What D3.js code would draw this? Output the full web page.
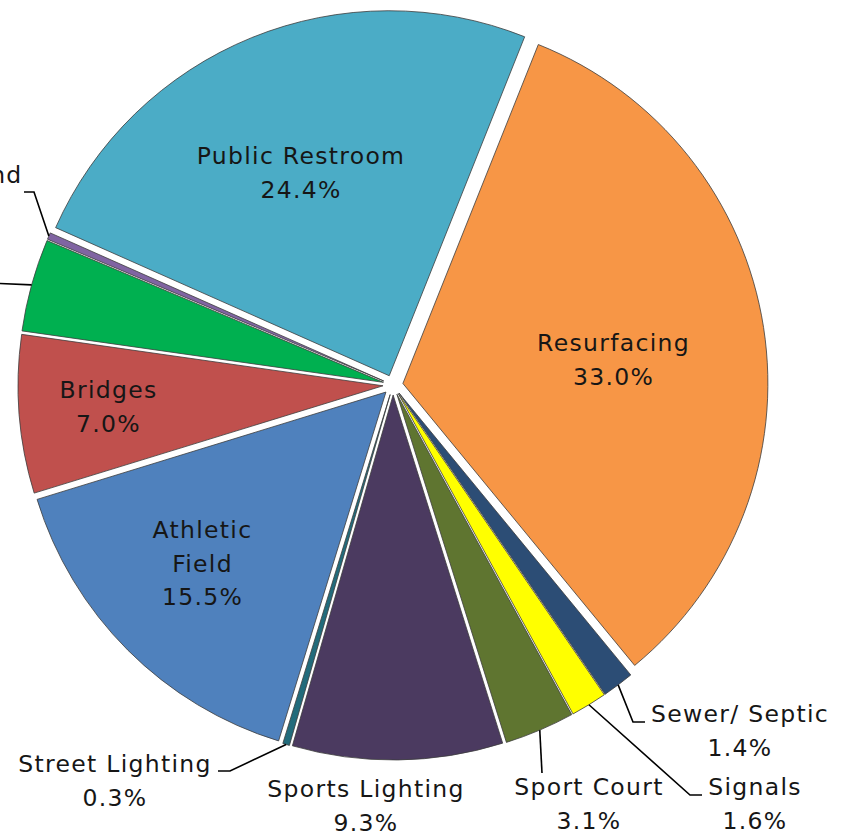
<!DOCTYPE html>
<html>
<head>
<meta charset="utf-8">
<script src="https://cdn.jsdelivr.net/npm/d3@7/dist/d3.min.js"></script>
<style>
  html, body { margin: 0; padding: 0; background: #ffffff; overflow: hidden; }
  svg { display: block; }
  text { font-family: "DejaVu Sans", Verdana, sans-serif; font-size: 23.5px; letter-spacing: 1.3px; fill: #161616; }
</style>
</head>
<body>
<svg id="chart" width="845" height="835"></svg>
<script>
// ---- data (clockwise order, as in the picture) ----
const categories = ["Athletic Field", "Bridges", "Irrigation", "Playground", "Public Restroom",
                    "Resurfacing", "Sewer/ Septic", "Signals", "Sport Court", "Sports Lighting", "Street Lighting"];
const values = [15.5, 7.0, 4.1, 0.3, 24.4, 33.0, 1.4, 1.6, 3.1, 9.3, 0.3];
const colors = ["#4F81BD", "#C0504D", "#00B050", "#8064A2", "#4BACC6",
                "#F79646", "#2C4D75", "#FFFF00", "#5F7530", "#4B3A60", "#226B7B"];

// ---- layout ----
const W = 845, H = 835;
const cx = 393, cy = 385, R = 365, explode = 10;
const startDeg = 197.1;
const lineGap = 33.5;

// label anchor: center x, first baseline y; lines override; leader elbows
const labelLayout = {
  "Athletic Field":  { x: 202.5, y: 538, lines: ["Athletic", "Field"] },
  "Bridges":         { x: 108.5, y: 398 },
  "Irrigation":      { x: -75,   y: 290, leader: [[-10, 283]] },
  "Playground":      { x: -50,   y: 183, leader: [[34, 192], [24, 192]] },
  "Public Restroom": { x: 301,   y: 164 },
  "Resurfacing":     { x: 613.5, y: 351 },
  "Sewer/ Septic":   { x: 740,   y: 722, leader: [[633, 722], [645, 722]] },
  "Signals":         { x: 755,   y: 795, leader: [[690, 795], [702, 795]] },
  "Sport Court":     { x: 589,   y: 795, leader: [[542, 773]] },
  "Sports Lighting": { x: 366,   y: 797 },
  "Street Lighting": { x: 115,   y: 772, leader: [[230, 771], [218, 771]] }
};

const rows = categories.map((c, i) => ({ name: c, value: values[i], color: colors[i] }));

const svg = d3.select("#chart");
const g = svg.append("g").attr("transform", `translate(${cx},${cy})`);

const pie = d3.pie()
  .sort(null)
  .value(d => d.value)
  .startAngle(startDeg * Math.PI / 180)
  .endAngle((startDeg + 360) * Math.PI / 180);

const arc = d3.arc().innerRadius(0).outerRadius(R);
const arcs = pie(rows);

const mid = a => (a.startAngle + a.endAngle) / 2;
const off = a => [explode * Math.sin(mid(a)), -explode * Math.cos(mid(a))];

g.selectAll("path.slice")
  .data(arcs)
  .join("path")
  .attr("class", "slice")
  .attr("transform", a => { const o = off(a); return `translate(${o[0]},${o[1]})`; })
  .attr("d", arc)
  .attr("fill", a => a.data.color)
  .attr("stroke", "#3c3c3c")
  .attr("stroke-width", 0.8)
  .attr("stroke-linejoin", "round");

// leader lines: from the arc at mid-angle to the label elbows
const fmt = v => d3.format(".1f")(v) + "%";
const leaderData = arcs.filter(a => labelLayout[a.data.name].leader);
svg.selectAll("path.leader")
  .data(leaderData)
  .join("path")
  .attr("class", "leader")
  .attr("fill", "none")
  .attr("stroke", "#000")
  .attr("stroke-width", 1.6)
  .attr("d", a => {
    const o = off(a), m = mid(a);
    const p0 = [cx + o[0] + R * Math.sin(m), cy + o[1] - R * Math.cos(m)];
    return d3.line()([p0, ...labelLayout[a.data.name].leader]);
  });

// labels
const labels = svg.selectAll("text.lbl")
  .data(arcs)
  .join("text")
  .attr("class", "lbl")
  .attr("text-anchor", "middle");

labels.each(function(a) {
  const L = labelLayout[a.data.name];
  const lines = (L.lines || [a.data.name]).concat([fmt(a.data.value)]);
  d3.select(this).selectAll("tspan")
    .data(lines)
    .join("tspan")
    .attr("x", L.x)
    .attr("y", (d, i) => L.y + i * lineGap)
    .text(d => d);
});
</script>
</body>
</html>
